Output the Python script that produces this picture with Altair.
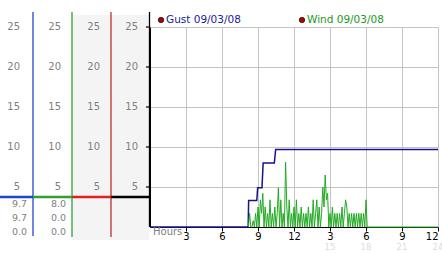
import altair as alt
import pandas as pd

# ---------------- data ----------------
gust_hours = [0, 8.18, 8.22, 8.9, 8.97, 9.33, 9.43, 10.36, 10.47, 24]
gust_values = [0, 0, 3.3, 3.3, 4.9, 4.9, 8.0, 8.0, 9.7, 9.7]

wind_start = 8.2
wind_step = 0.1
wind_values = [0, 1.7, 0, 0, 0.8, 0, 1.7, 0, 2.5, 0, 3.4, 1.7, 4.2, 0, 2.5, 0, 1.7, 0,
               3.4, 0, 1.7, 0, 2.5, 0, 1.7, 4.9, 0, 3.4, 0, 1.7, 0, 8.1, 2.5, 0, 3.4, 0,
               1.7, 0, 2.5, 0, 3.4, 0, 1.7, 0, 2.5, 0, 1.7, 0, 1.7, 0, 2.5, 0, 1.7, 0,
               3.4, 0, 1.7, 3.4, 0, 2.5, 0, 1.7, 5.0, 2.5, 6.5, 3.4, 4.2, 0, 1.7, 0, 2.5,
               0, 1.7, 0, 1.7, 0, 1.7, 0, 2.5, 0, 1.7, 3.4, 2.5, 0, 1.7, 0, 1.7, 0, 1.7,
               0, 1.7, 0, 1.7, 0, 1.7, 0, 1.7, 0, 3.4, 0]
wind_end_hour = 24

y_ticks = [5, 10, 15, 20, 25]
x_ticks = [3, 6, 9, 12, 15, 18, 21, 24]
x_ticks_24h = [15, 18, 21, 24]
readouts = [["9.7", "9.7", "0.0"], ["8.0", "0.0", "0.0"]]
legend_labels = ["Gust 09/03/08", "Wind 09/03/08"]

# ---------------- tables ----------------
gust_df = pd.DataFrame({"hour": gust_hours, "value": gust_values})
wind_hours = [round(wind_start + wind_step * i, 2) for i in range(len(wind_values))]
wind_df = pd.DataFrame({"hour": wind_hours + [wind_end_hour],
                        "value": wind_values + [0]})
ytick_df = pd.DataFrame({"v": y_ticks})
x24_df = pd.DataFrame({"h": x_ticks_24h})
one = pd.DataFrame({"a": [0]})

FONT = "DejaVu Sans"
GRAY = "#808080"
xs = alt.Scale(domain=[0, 24], nice=False, zero=False)
ys = alt.Scale(domain=[0, 25], nice=False)

layers = []

# gray background of columns 3 and 4
layers.append(alt.Chart(one).mark_rect(color="#f4f4f4").encode(
    x=alt.value(-78), x2=alt.value(-1), y=alt.value(-12), y2=alt.value(213)))

# main plot (axes + gust line)
gust = alt.Chart(gust_df).mark_line(color="#14148c", strokeWidth=1.5, clip=False).encode(
    x=alt.X("hour:Q", scale=xs, axis=alt.Axis(
        values=x_ticks, title=None, grid=True, gridColor="#c4c4c4", domain=True,
        domainColor="#000000", tickColor="#000000", tickSize=4, labelPadding=0,
        labelColor="#000000", labelFont=FONT, labelFontSize=10,
        labelExpr="datum.value > 12 ? datum.value - 12 : datum.value")),
    y=alt.Y("value:Q", scale=ys, axis=alt.Axis(
        values=y_ticks, title=None, grid=True, gridColor="#c4c4c4", domain=True,
        domainColor="#000000", ticks=False, labels=False)),
)
layers.append(gust)

wind = alt.Chart(wind_df).mark_line(color="#22aa22", strokeWidth=1).encode(
    x=alt.X("hour:Q", scale=xs), y=alt.Y("value:Q", scale=ys))
layers.append(wind)

# vertical column separators
for xpos, col, y2 in [(-117, "#2244cc", 209), (-78, "#33a033", 210), (-39, "#c03030", 210),
                      (-0.5, "#000000", 200)]:
    layers.append(alt.Chart(one).mark_rule(color=col, strokeWidth=1.3).encode(
        x=alt.value(xpos), y=alt.value(-15), y2=alt.value(y2)))

# main y ticks
layers.append(alt.Chart(ytick_df).mark_rule(color="#000000", strokeWidth=1.2).encode(
    x=alt.value(-4), x2=alt.value(-1), y=alt.Y("v:Q", scale=ys)))

# horizontal colored marker line
for x1, x2, col in [(-150, -117, "#2244cc"), (-117, -78, "#33a033"),
                    (-78, -39, "#dd2222"), (-39, 0, "#000000")]:
    layers.append(alt.Chart(one).mark_rule(color=col, strokeWidth=2.5).encode(
        x=alt.value(x1), x2=alt.value(x2), y=alt.value(170)))

# column tick labels (4 columns; the last one belongs to the plot's own axis)
for xr in [-130, -89, -50, -12]:
    layers.append(alt.Chart(ytick_df).mark_text(
        align="right", baseline="middle", font=FONT, fontSize=10, color=GRAY).encode(
        x=alt.value(xr), y=alt.Y("v:Q", scale=ys), text=alt.Text("v:Q")))

# readouts
for ci, col in enumerate(readouts):
    for ri, txt in enumerate(col):
        layers.append(alt.Chart(one).mark_text(
            align="right", baseline="middle", font=FONT, fontSize=9.5, color=GRAY).encode(
            x=alt.value([-123, -84][ci]), y=alt.value(177 + 14 * ri), text=alt.value(txt)))

# Hours label and 24h labels
layers.append(alt.Chart(one).mark_text(
    align="left", baseline="middle", font=FONT, fontSize=10, color=GRAY).encode(
    x=alt.value(3), y=alt.value(205), text=alt.value("Hours")))
layers.append(alt.Chart(x24_df).mark_text(
    align="center", baseline="middle", font=FONT, fontSize=8.5, color="#dcdcdc").encode(
    x=alt.X("h:Q", scale=xs), y=alt.value(220), text=alt.Text("h:Q")))

# legend
for lx, lab, col in [(11, legend_labels[0], "#2020a0"), (152, legend_labels[1], "#229922")]:
    layers.append(alt.Chart(one).mark_point(
        filled=True, color="#b00000", stroke="#000000", strokeWidth=0.6, size=30,
        shape="circle", opacity=1).encode(x=alt.value(lx), y=alt.value(-7)))
    layers.append(alt.Chart(one).mark_text(
        align="left", baseline="middle", font=FONT, fontSize=10.5, color=col).encode(
        x=alt.value(lx + 5), y=alt.value(-7), text=alt.value(lab)))

chart = alt.layer(*layers).properties(
    width=288, height=200,
    padding={"left": 150, "top": 27, "right": 4, "bottom": 26},
    autosize=alt.AutoSizeParams(type="none"),
    background="white",
).configure_view(stroke=None)

chart.save("out.html", embed_options={"renderer": "svg", "actions": False})
